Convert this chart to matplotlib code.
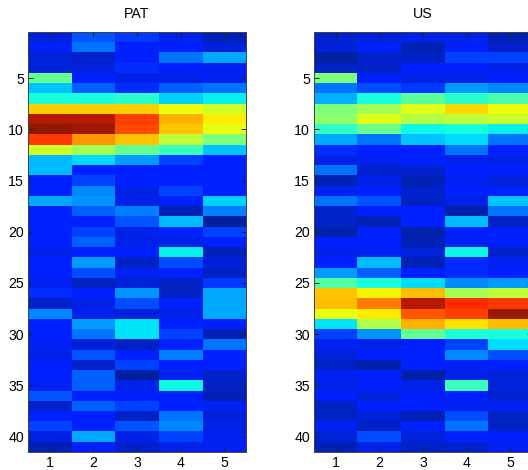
import matplotlib
matplotlib.use('Agg')
import matplotlib.pyplot as plt
from matplotlib.colors import ListedColormap
import numpy as np

plt.rcParams['font.family'] = ['Liberation Sans', 'DejaVu Sans']

columns = [1, 2, 3, 4, 5]
row_ticks = [5, 10, 15, 20, 25, 30, 35, 40]

# values, on a 0-1 jet scale
pat = [
    [.08, .21, .18, .09, .05],
    [.13, .24, .11, .16, .08],
    [.08, .07, .11, .24, .29],
    [.08, .08, .17, .13, .10],
    [.47, .12, .09, .09, .10],
    [.32, .22, .17, .22, .24],
    [.38, .38, .40, .33, .36],
    [.69, .69, .69, .64, .60],
    [.95, .95, .84, .72, .66],
    [.985, .97, .83, .70, .63],
    [.85, .75, .70, .58, .50],
    [.60, .55, .47, .42, .32],
    [.31, .34, .28, .19, .14],
    [.31, .14, .13, .15, .13],
    [.13, .19, .12, .15, .12],
    [.13, .26, .09, .19, .13],
    [.29, .27, .09, .15, .33],
    [.13, .22, .25, .05, .25],
    [.13, .12, .21, .31, .03],
    [.13, .19, .09, .13, .19],
    [.15, .22, .09, .09, .15],
    [.09, .14, .16, .36, .05],
    [.14, .28, .06, .20, .08],
    [.12, .20, .10, .15, .06],
    [.10, .06, .08, .06, .18],
    [.17, .14, .27, .06, .29],
    [.07, .09, .20, .12, .29],
    [.26, .09, .08, .09, .29],
    [.14, .28, .35, .13, .11],
    [.14, .24, .35, .19, .05],
    [.10, .08, .06, .15, .24],
    [.09, .21, .15, .25, .14],
    [.12, .07, .19, .15, .14],
    [.16, .22, .03, .10, .07],
    [.10, .22, .09, .37, .06],
    [.21, .14, .16, .15, .05],
    [.07, .22, .19, .14, .10],
    [.12, .13, .06, .24, .08],
    [.19, .13, .21, .26, .09],
    [.09, .29, .09, .19, .10],
    [.05, .13, .07, .09, .10],
]
us = [
    [.07, .08, .09, .09, .05],
    [.08, .14, .05, .11, .07],
    [.03, .07, .06, .19, .19],
    [.06, .06, .12, .12, .09],
    [.50, .11, .09, .09, .13],
    [.24, .20, .18, .28, .26],
    [.30, .38, .46, .40, .44],
    [.50, .55, .62, .68, .64],
    [.52, .62, .57, .58, .60],
    [.41, .48, .37, .38, .36],
    [.29, .24, .32, .34, .24],
    [.17, .16, .14, .24, .16],
    [.09, .10, .12, .10, .09],
    [.24, .07, .07, .13, .11],
    [.05, .09, .05, .10, .08],
    [.10, .13, .07, .12, .13],
    [.24, .21, .06, .09, .32],
    [.07, .15, .16, .04, .24],
    [.07, .05, .14, .31, .06],
    [.04, .13, .04, .16, .16],
    [.12, .16, .05, .10, .14],
    [.09, .10, .08, .37, .07],
    [.14, .31, .05, .17, .10],
    [.28, .22, .15, .17, .12],
    [.45, .38, .34, .26, .28],
    [.70, .65, .71, .55, .58],
    [.71, .78, .95, .86, .85],
    [.63, .66, .82, .84, .98],
    [.35, .56, .72, .67, .71],
    [.19, .27, .47, .39, .38],
    [.10, .09, .13, .19, .34],
    [.08, .14, .15, .26, .20],
    [.06, .04, .14, .10, .14],
    [.10, .11, .04, .09, .08],
    [.09, .11, .09, .42, .08],
    [.15, .08, .14, .11, .07],
    [.06, .13, .13, .10, .10],
    [.06, .08, .05, .20, .06],
    [.10, .06, .11, .24, .06],
    [.08, .20, .08, .14, .13],
    [.05, .09, .06, .07, .10],
]

# jet, but the blues of the original carry a bit of green
colors = plt.get_cmap('jet')(np.linspace(0, 1, 256))
low = np.linspace(0, 1, 256) < 0.2
colors[low, 1] = np.maximum(colors[low, 1], 0.13)
colors[:, 1] = np.where(np.linspace(0, 1, 256) > 0.85, np.maximum(colors[:, 1], 0.1), colors[:, 1])
cmap = ListedColormap(colors)

W, H = 528, 470
fig = plt.figure(figsize=(W / 100, H / 100), dpi=100)

# axes boxes in pixels, the right one runs off the edge of the figure
boxes = [(28, 32, 218, 420), (314, 32, 218, 420)]
titles = ['PAT', 'US']
for box, data, title in zip(boxes, [pat, us], titles):
    x, y, w, h = box
    ax = fig.add_axes([x / W, 1 - (y + h) / H, w / W, h / H])
    ax.imshow(np.array(data), cmap=cmap, vmin=0, vmax=1, aspect='auto',
              interpolation='nearest', extent=[0.5, 5.5, 41.5, 0.5])
    ax.set_xticks(columns)
    ax.set_yticks(row_ticks)
    ax.tick_params(direction='in', top=True, right=True, length=3.5, width=0.7,
                   labelsize=10.2, color='#222222', labelcolor='#000000', pad=3)
    for s in ax.spines.values():
        s.set_linewidth(0.7)
        s.set_color('#444444')
    ax.set_title(title, fontsize=10.2, pad=10, color='#000000')

fig.savefig('out.png', dpi=100)
